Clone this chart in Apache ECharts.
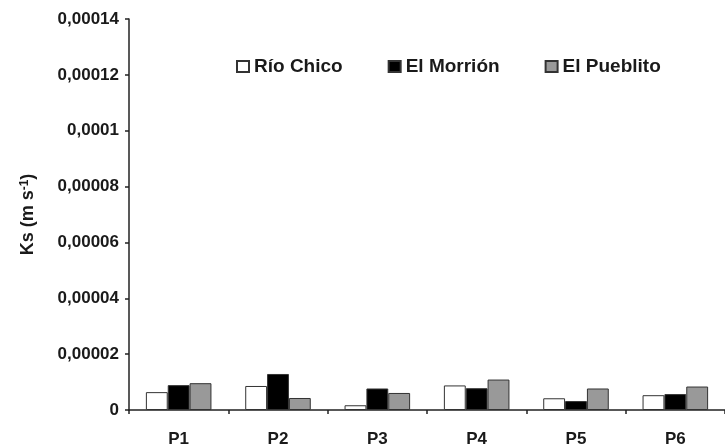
<!DOCTYPE html>
<html>
<head>
<meta charset="utf-8">
<script src="https://cdn.jsdelivr.net/npm/echarts@6/dist/echarts.min.js"></script>
<style>html,body{margin:0;padding:0;background:#fff}#c{width:725px;height:448px}</style>
</head>
<body>
<div id="c"></div>
<script>
const categories = ['P1', 'P2', 'P3', 'P4', 'P5', 'P6'];
const seriesNames = ['Río Chico', 'El Morrión', 'El Pueblito'];
const rioChico   = [0.0000064, 0.0000086, 0.0000017, 0.0000088, 0.0000042, 0.0000053];
const elMorrion  = [0.0000089, 0.0000129, 0.0000077, 0.0000078, 0.0000032, 0.0000057];
const elPueblito = [0.0000096, 0.0000043, 0.0000061, 0.0000109, 0.0000077, 0.0000084];
const yTickLabels = ['0', '0,00002', '0,00004', '0,00006', '0,00008', '0,0001', '0,00012', '0,00014'];

const FONT = '"Liberation Sans", Arial, sans-serif';
const TXT = '#1a1a1a';
const chart = echarts.init(document.getElementById('c'));
const fills = ['#ffffff', '#000000', '#999999'];
const values = [rioChico, elMorrion, elPueblito];

chart.setOption({
  animation: false,
  textStyle: { fontFamily: FONT },
  grid: { left: 129, top: 19, width: 598, height: 391 },
  legend: {
    left: 236, top: 57, padding: 0,
    itemWidth: 12, itemHeight: 11, itemGap: 45,
    icon: 'rect',
    textStyle: { fontFamily: FONT, fontSize: 19, fontWeight: 'bold', color: TXT },
    data: seriesNames
  },
  xAxis: {
    type: 'category',
    data: categories,
    axisLine: { lineStyle: { color: '#222', width: 1.5 } },
    axisTick: { show: true, length: 4, inside: false, lineStyle: { color: '#222', width: 1.5 } },
    axisLabel: { fontFamily: FONT, fontSize: 17, fontWeight: 'bold', color: TXT, margin: 21 }
  },
  yAxis: {
    type: 'value',
    min: 0, max: 0.00014, interval: 0.00002,
    name: '{b|Ks (m s}{sup|-1}{b|)}',
    nameLocation: 'middle',
    nameGap: 92,
    nameTextStyle: {
      fontFamily: FONT, fontSize: 18, fontWeight: 'bold', color: TXT,
      rich: {
        b: { fontFamily: FONT, fontSize: 18, fontWeight: 'bold', color: TXT },
        sup: { fontFamily: FONT, fontSize: 12, fontWeight: 'bold', color: TXT, verticalAlign: 'top' }
      }
    },
    axisLine: { show: true, lineStyle: { color: '#222', width: 1.5 } },
    axisTick: { show: true, length: 4, lineStyle: { color: '#222', width: 1.5 } },
    splitLine: { show: false },
    axisLabel: {
      fontFamily: FONT, fontSize: 17, fontWeight: 'bold', color: TXT, margin: 10,
      formatter: function (v, i) { return yTickLabels[i]; }
    }
  },
  series: seriesNames.map((n, k) => ({
    name: n,
    type: 'bar',
    data: values[k],
    barGap: '0%',
    barCategoryGap: '34%',
    itemStyle: { color: fills[k], borderColor: '#333', borderWidth: 1 }
  }))
});
</script>
</body>
</html>
